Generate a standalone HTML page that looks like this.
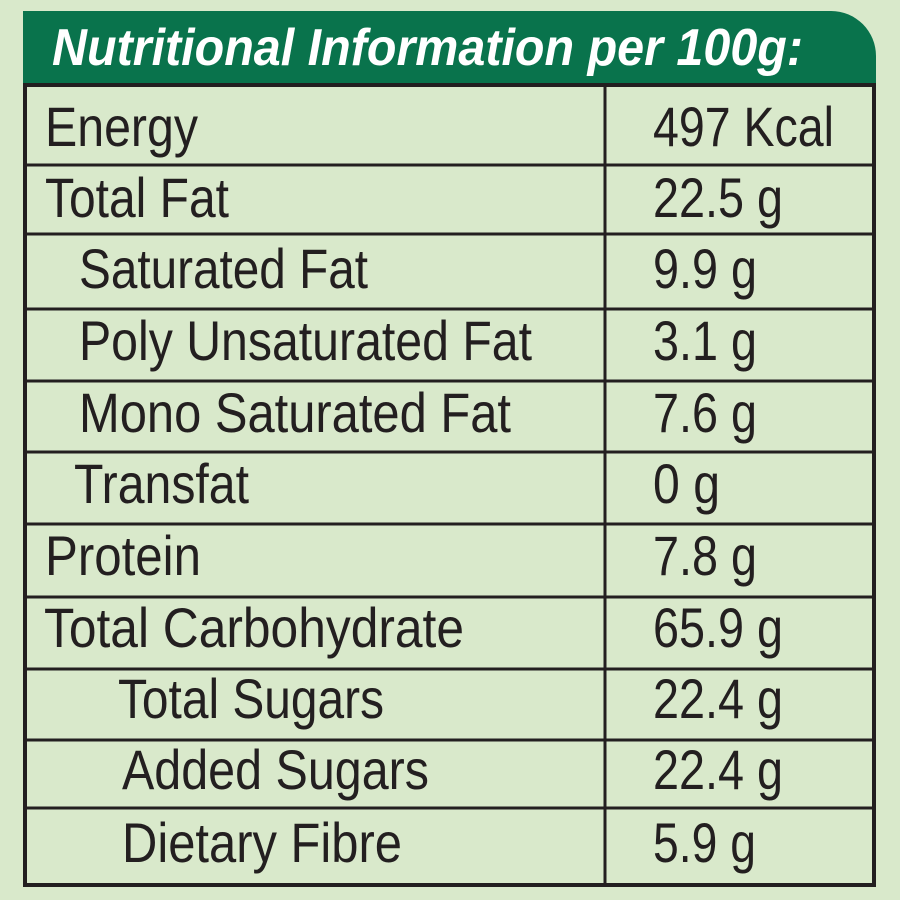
<!DOCTYPE html>
<html>
<head>
<meta charset="utf-8">
<style>
html,body{margin:0;padding:0;background:#d9e9cb;}
svg{display:block;}
text{font-family:"Liberation Sans",Arial,sans-serif;}
</style>
</head>
<body>
<svg width="900" height="900" viewBox="0 0 900 900" xmlns="http://www.w3.org/2000/svg">
  <rect x="0" y="0" width="900" height="900" fill="#d9e9cb"/>
  <!-- header -->
  <path d="M23 11 H831 A45 45 0 0 1 876 56 V85 H23 Z" fill="#09734c"/>
  <text x="52" y="65" font-size="52" font-weight="bold" font-style="italic" fill="#ffffff" textLength="751" lengthAdjust="spacingAndGlyphs">Nutritional Information per 100g:</text>

  <!-- table lines -->
  <g fill="#231f20">
    <rect x="23" y="83" width="853" height="4"/>
    <rect x="23" y="883" width="853" height="4"/>
    <rect x="23" y="83" width="4" height="804"/>
    <rect x="872" y="83" width="4" height="804"/>
    <rect x="603.5" y="83" width="3" height="804"/>
    <rect x="23" y="163.5" width="853" height="3"/>
    <rect x="23" y="232.5" width="853" height="3"/>
    <rect x="23" y="307.5" width="853" height="3"/>
    <rect x="23" y="379.5" width="853" height="3"/>
    <rect x="23" y="450.5" width="853" height="3"/>
    <rect x="23" y="522.5" width="853" height="3"/>
    <rect x="23" y="595.5" width="853" height="3"/>
    <rect x="23" y="667.5" width="853" height="3"/>
    <rect x="23" y="738.5" width="853" height="3"/>
    <rect x="23" y="806.5" width="853" height="3"/>
  </g>

  <!-- labels -->
  <g font-size="56" fill="#231f20">
    <text x="45" y="146" textLength="153" lengthAdjust="spacingAndGlyphs">Energy</text>
    <text x="45" y="217" textLength="184" lengthAdjust="spacingAndGlyphs">Total Fat</text>
    <text x="79" y="288" textLength="289" lengthAdjust="spacingAndGlyphs">Saturated Fat</text>
    <text x="79" y="360" textLength="453" lengthAdjust="spacingAndGlyphs">Poly Unsaturated Fat</text>
    <text x="79" y="432" textLength="432" lengthAdjust="spacingAndGlyphs">Mono Saturated Fat</text>
    <text x="74" y="503" textLength="175" lengthAdjust="spacingAndGlyphs">Transfat</text>
    <text x="45" y="575" textLength="156" lengthAdjust="spacingAndGlyphs">Protein</text>
    <text x="44" y="647" textLength="420" lengthAdjust="spacingAndGlyphs">Total Carbohydrate</text>
    <text x="118" y="718" textLength="266" lengthAdjust="spacingAndGlyphs">Total Sugars</text>
    <text x="122" y="789" textLength="307" lengthAdjust="spacingAndGlyphs">Added Sugars</text>
    <text x="122" y="862" textLength="280" lengthAdjust="spacingAndGlyphs">Dietary Fibre</text>
  </g>

  <!-- values -->
  <g font-size="56" fill="#231f20">
    <text x="653" y="146" textLength="181" lengthAdjust="spacingAndGlyphs">497 Kcal</text>
    <text x="653" y="217" textLength="130" lengthAdjust="spacingAndGlyphs">22.5 g</text>
    <text x="653" y="288" textLength="104" lengthAdjust="spacingAndGlyphs">9.9 g</text>
    <text x="653" y="360" textLength="104" lengthAdjust="spacingAndGlyphs">3.1 g</text>
    <text x="653" y="432" textLength="104" lengthAdjust="spacingAndGlyphs">7.6 g</text>
    <text x="653" y="503" textLength="67" lengthAdjust="spacingAndGlyphs">0 g</text>
    <text x="653" y="575" textLength="104" lengthAdjust="spacingAndGlyphs">7.8 g</text>
    <text x="653" y="647" textLength="130" lengthAdjust="spacingAndGlyphs">65.9 g</text>
    <text x="653" y="718" textLength="130" lengthAdjust="spacingAndGlyphs">22.4 g</text>
    <text x="653" y="789" textLength="130" lengthAdjust="spacingAndGlyphs">22.4 g</text>
    <text x="653" y="862" textLength="103" lengthAdjust="spacingAndGlyphs">5.9 g</text>
  </g>
</svg>
</body>
</html>
